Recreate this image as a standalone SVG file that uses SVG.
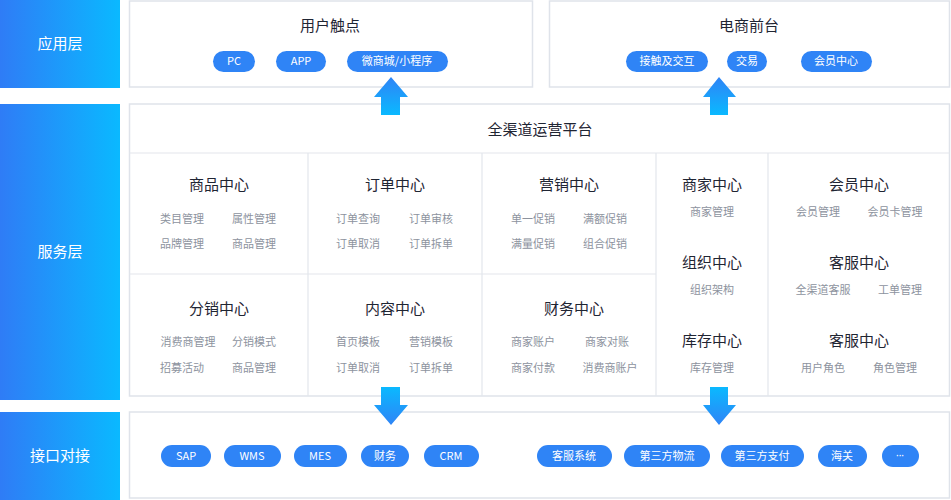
<svg xmlns="http://www.w3.org/2000/svg" width="951" height="500" viewBox="0 0 951 500">
<defs>
<linearGradient id="lg" x1="0" y1="0" x2="1" y2="0"><stop offset="0" stop-color="#2f7cf6"/><stop offset="1" stop-color="#0ab9ff"/></linearGradient>
<linearGradient id="up" x1="0" y1="1" x2="0" y2="0"><stop offset="0" stop-color="#0ab9ff"/><stop offset="1" stop-color="#2f84f6"/></linearGradient>
<linearGradient id="dn" x1="0" y1="0" x2="0" y2="1"><stop offset="0" stop-color="#0ab9ff"/><stop offset="1" stop-color="#2f84f6"/></linearGradient>
<style>
text{font-family:"Noto Sans CJK SC","Noto Sans",sans-serif;text-anchor:middle}
.lab{fill:#fff;font-size:15px}
.box{fill:#fff;stroke:#dfe3ea;stroke-width:1.5}
.ln{stroke:#e3e6ec;stroke-width:1.2}
.t{fill:#1f2533;font-size:15px}
.s{fill:#8d939e;font-size:11px}
.p{fill:#2f84f6}
.pt{fill:#fff;font-size:11px}
</style>
</defs>
<rect width="951" height="500" fill="#fff"/>
<g id="layers">
<rect x="0" y="0" width="120" height="88" fill="url(#lg)"/><text class="lab" x="60" y="49">应用层</text>
<rect x="0" y="104" width="120" height="296" fill="url(#lg)"/><text class="lab" x="60" y="257">服务层</text>
<rect x="0" y="412" width="120" height="88" fill="url(#lg)"/><text class="lab" x="60" y="461">接口对接</text>
</g>
<g id="touch">
<rect class="box" x="129.5" y="1" width="403" height="86"/>
<text class="t" x="330" y="31">用户触点</text>
<rect class="p" x="213" y="51" width="42" height="21" rx="10.5"/><text class="pt" x="234" y="65">PC</text>
<rect class="p" x="276" y="51" width="50" height="21" rx="10.5"/><text class="pt" x="301" y="65">APP</text>
<rect class="p" x="347" y="51" width="101" height="21" rx="10.5"/><text class="pt" x="397" y="65">微商城/小程序</text>
</g>
<g id="front">
<rect class="box" x="549.5" y="1" width="400" height="86"/>
<text class="t" x="749" y="31">电商前台</text>
<rect class="p" x="626" y="51" width="82" height="21" rx="10.5"/><text class="pt" x="667" y="65">接触及交互</text>
<rect class="p" x="727" y="51" width="40" height="21" rx="10.5"/><text class="pt" x="747" y="65">交易</text>
<rect class="p" x="801" y="51" width="71" height="21" rx="10.5"/><text class="pt" x="836" y="65">会员中心</text>
</g>
<g id="service">
<rect class="box" x="129.5" y="104" width="820" height="292"/>
<text class="t" x="540" y="135">全渠道运营平台</text>
<line class="ln" x1="129.5" y1="153" x2="949.5" y2="153"/>
<line class="ln" x1="129.5" y1="274" x2="656" y2="274"/>
<line class="ln" x1="308" y1="153" x2="308" y2="396"/>
<line class="ln" x1="482" y1="153" x2="482" y2="396"/>
<line class="ln" x1="656" y1="153" x2="656" y2="396"/>
<line class="ln" x1="768" y1="153" x2="768" y2="396"/>
</g>
<g id="goods"><text class="t" x="219" y="190">商品中心</text><text class="s" x="182" y="223">类目管理</text><text class="s" x="254" y="223">属性管理</text><text class="s" x="182" y="248">品牌管理</text><text class="s" x="254" y="248">商品管理</text></g>
<g id="order"><text class="t" x="395" y="190">订单中心</text><text class="s" x="358" y="223">订单查询</text><text class="s" x="431" y="223">订单审核</text><text class="s" x="358" y="248">订单取消</text><text class="s" x="431" y="248">订单拆单</text></g>
<g id="mkt"><text class="t" x="569" y="190">营销中心</text><text class="s" x="533" y="223">单一促销</text><text class="s" x="605" y="223">满额促销</text><text class="s" x="533" y="248">满量促销</text><text class="s" x="605" y="248">组合促销</text></g>
<g id="dist"><text class="t" x="219" y="314">分销中心</text><text class="s" x="188" y="346">消费商管理</text><text class="s" x="254" y="346">分销模式</text><text class="s" x="182" y="372">招募活动</text><text class="s" x="254" y="372">商品管理</text></g>
<g id="content"><text class="t" x="395" y="314">内容中心</text><text class="s" x="358" y="346">首页模板</text><text class="s" x="431" y="346">营销模板</text><text class="s" x="358" y="372">订单取消</text><text class="s" x="431" y="372">订单拆单</text></g>
<g id="fin"><text class="t" x="574" y="314">财务中心</text><text class="s" x="533" y="346">商家账户</text><text class="s" x="607" y="346">商家对账</text><text class="s" x="533" y="372">商家付款</text><text class="s" x="610" y="372">消费商账户</text></g>
<g id="merchant"><text class="t" x="712" y="190">商家中心</text><text class="s" x="712" y="216">商家管理</text></g>
<g id="org"><text class="t" x="712" y="268">组织中心</text><text class="s" x="712" y="294">组织架构</text></g>
<g id="stock"><text class="t" x="712" y="346">库存中心</text><text class="s" x="712" y="372">库存管理</text></g>
<g id="member"><text class="t" x="859" y="190">会员中心</text><text class="s" x="818" y="216">会员管理</text><text class="s" x="895" y="216">会员卡管理</text></g>
<g id="cs1"><text class="t" x="859" y="268">客服中心</text><text class="s" x="823" y="294">全渠道客服</text><text class="s" x="900" y="294">工单管理</text></g>
<g id="cs2"><text class="t" x="859" y="346">客服中心</text><text class="s" x="823" y="372">用户角色</text><text class="s" x="895" y="372">角色管理</text></g>
<g id="iface">
<rect class="box" x="129.5" y="412" width="820" height="86"/>
<rect class="p" x="161" y="445" width="50" height="22" rx="11"/><text class="pt" x="186" y="460">SAP</text>
<rect class="p" x="224" y="445" width="57" height="22" rx="11"/><text class="pt" x="252" y="460">WMS</text>
<rect class="p" x="294" y="445" width="53" height="22" rx="11"/><text class="pt" x="320" y="460">MES</text>
<rect class="p" x="361" y="445" width="48" height="22" rx="11"/><text class="pt" x="385" y="460">财务</text>
<rect class="p" x="424" y="445" width="55" height="22" rx="11"/><text class="pt" x="451" y="460">CRM</text>
<rect class="p" x="537" y="445" width="75" height="22" rx="11"/><text class="pt" x="574" y="460">客服系统</text>
<rect class="p" x="624" y="445" width="86" height="22" rx="11"/><text class="pt" x="667" y="460">第三方物流</text>
<rect class="p" x="721" y="445" width="83" height="22" rx="11"/><text class="pt" x="762" y="460">第三方支付</text>
<rect class="p" x="818" y="445" width="49" height="22" rx="11"/><text class="pt" x="842" y="460">海关</text>
<rect class="p" x="882" y="445" width="37" height="22" rx="11"/><text class="pt" x="900" y="459" style="font-family:'Noto Sans',sans-serif;font-size:10px">···</text>
</g>
<g id="connectors">
<path d="M381 115V97H374L391 77L408 97H400V115Z" fill="url(#up)"/>
<path d="M710 115V97H703L719 77L736 97H728V115Z" fill="url(#up)"/>
<path d="M381 387V405H374L391 425L408 405H400V387Z" fill="url(#dn)"/>
<path d="M710 387V405H703L719 425L736 405H728V387Z" fill="url(#dn)"/>
</g>
</svg>
